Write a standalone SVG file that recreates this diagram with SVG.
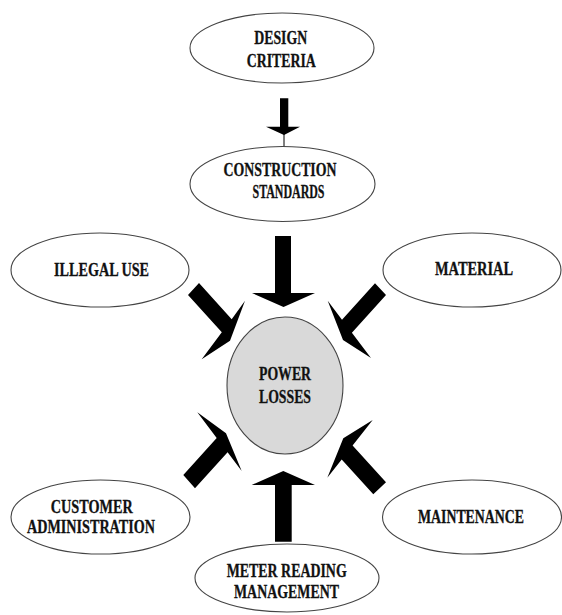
<svg xmlns="http://www.w3.org/2000/svg" width="562" height="615" viewBox="0 0 562 615">
<style>
.node ellipse{fill:#ffffff;stroke:#444444;stroke-width:1.1}
.node.core ellipse{fill:#d9d9d9}
.node text{font-family:"Liberation Serif","Times New Roman",serif;font-weight:bold;font-size:19px;fill:#111111;stroke:#111111;stroke-width:0.3;text-anchor:middle}
.arrows polygon{fill:#000000;stroke:none}
.arrows line{stroke:#000000;stroke-width:1}
</style>
<rect width="562" height="615" fill="#ffffff"/>
<g id="connectors" class="arrows">
<polygon points="280,98.3 288.3,98.3 288.3,126.7 300,126.7 284,135 266,126.7 280,126.7"/>
<line x1="284" y1="134" x2="284" y2="147"/>
<polygon points="275,236 291,236 291,293 315,293 283.5,307 252,293 275,293"/>
<polygon points="188,295 199,283 231.7,319.2 245,300.7 230,340.7 201.7,359.3 221.8,332.3"/>
<polygon points="375,283.3 386,295 351.9,332.7 371,358 343,340 327.7,300.7 342,319.7"/>
<polygon points="183.3,475 216.7,438.1 197.3,412.3 226,433.3 241.7,471 227.6,452.3 195,488.3"/>
<polygon points="373.3,494.3 341.7,459.4 327.3,477.7 343.3,438.3 372.7,420 352.6,445.5 386,482.3"/>
<polygon points="275,541.7 291.7,541.7 291.7,485 315,485 283.3,471 251.7,485 275,485"/>
</g>
<g id="design-criteria" class="node">
<ellipse cx="282" cy="48" rx="92" ry="35"/>
<text x="280.7" y="44" textLength="53" lengthAdjust="spacingAndGlyphs">DESIGN</text>
<text x="281.3" y="66.7" textLength="69" lengthAdjust="spacingAndGlyphs">CRITERIA</text>
</g>
<g id="construction-standards" class="node">
<ellipse cx="282.5" cy="184" rx="92.5" ry="37.5"/>
<text x="280" y="175.5" textLength="113" lengthAdjust="spacingAndGlyphs">CONSTRUCTION</text>
<text x="288.5" y="197.5" textLength="72" lengthAdjust="spacingAndGlyphs">STANDARDS</text>
</g>
<g id="illegal-use" class="node">
<ellipse cx="100" cy="270" rx="89" ry="37"/>
<text x="101.5" y="276" textLength="95" lengthAdjust="spacingAndGlyphs">ILLEGAL USE</text>
</g>
<g id="material" class="node">
<ellipse cx="472" cy="270" rx="89" ry="37"/>
<text x="474" y="275" textLength="78" lengthAdjust="spacingAndGlyphs">MATERIAL</text>
</g>
<g id="power-losses" class="node core">
<ellipse cx="285" cy="385.5" rx="58" ry="68.5"/>
<text x="285" y="380" textLength="52" lengthAdjust="spacingAndGlyphs">POWER</text>
<text x="285" y="402.7" textLength="52" lengthAdjust="spacingAndGlyphs">LOSSES</text>
</g>
<g id="customer-administration" class="node">
<ellipse cx="100.5" cy="517" rx="89.5" ry="37"/>
<text x="91.7" y="512.7" textLength="82" lengthAdjust="spacingAndGlyphs">CUSTOMER</text>
<text x="91" y="533.3" textLength="128" lengthAdjust="spacingAndGlyphs">ADMINISTRATION</text>
</g>
<g id="maintenance" class="node">
<ellipse cx="472" cy="517" rx="89.5" ry="37"/>
<text x="471" y="522.7" textLength="106" lengthAdjust="spacingAndGlyphs">MAINTENANCE</text>
</g>
<g id="meter-reading-management" class="node">
<ellipse cx="287" cy="578" rx="92" ry="34"/>
<text x="286.7" y="576.7" textLength="120" lengthAdjust="spacingAndGlyphs">METER READING</text>
<text x="286.5" y="598" textLength="105" lengthAdjust="spacingAndGlyphs">MANAGEMENT</text>
</g>
</svg>
